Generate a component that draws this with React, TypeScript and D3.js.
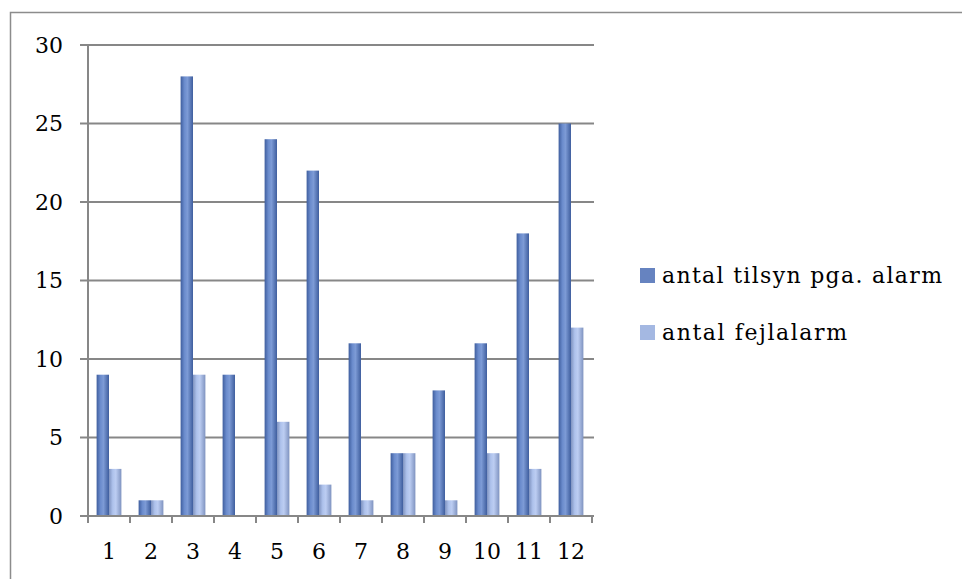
import { useRef, useEffect } from 'react'
import * as d3 from 'd3'

const months = ['1', '2', '3', '4', '5', '6', '7', '8', '9', '10', '11', '12']
const tilsyn = [9, 1, 28, 9, 24, 22, 11, 4, 8, 11, 18, 25]
const fejlalarm = [3, 1, 9, 0, 6, 2, 1, 4, 1, 4, 3, 12]
const seriesNames = ['antal tilsyn pga. alarm', 'antal fejlalarm']
const yTicks = [0, 5, 10, 15, 20, 25, 30]

const colors = [
  { edge: '#3f5e9e', base: '#6a8bcc', light: '#7d9bd6', swatch: '#6683c0' },
  { edge: '#7f93c0', base: '#aec2ec', light: '#bccdf2', swatch: '#a4b8e2' },
]

const font = '"DejaVu Serif", serif'

const App = () => {
  const svgRef = useRef<SVGSVGElement | null>(null)

  useEffect(() => {
    const svg = d3.select(svgRef.current)
    svg.selectAll('*').remove()

    const width = 962
    const height = 579
    const plot = { left: 88, right: 592, top: 45, bottom: 516 }

    svg.attr('width', width).attr('height', height)

    // outer frame
    svg
      .append('rect')
      .attr('x', 10.5)
      .attr('y', 12.5)
      .attr('width', width)
      .attr('height', height)
      .attr('fill', 'white')
      .attr('stroke', '#8c8c8c')
      .attr('stroke-width', 1.5)

    const defs = svg.append('defs')
    colors.forEach((c, i) => {
      const g = defs
        .append('linearGradient')
        .attr('id', `bar-grad-${i}`)
        .attr('x1', '0%')
        .attr('x2', '100%')
        .attr('y1', '0%')
        .attr('y2', '0%')
      g.append('stop').attr('offset', '0%').attr('stop-color', c.edge)
      g.append('stop').attr('offset', '30%').attr('stop-color', c.base)
      g.append('stop').attr('offset', '55%').attr('stop-color', c.light)
      g.append('stop').attr('offset', '100%').attr('stop-color', c.edge)
    })

    const x = d3.scaleBand<string>().domain(months).range([plot.left, plot.right]).paddingInner(0.41).paddingOuter(0.205)
    const inner = d3.scaleBand<number>().domain([0, 1]).range([0, x.bandwidth()])
    const y = d3.scaleLinear().domain([0, 30]).range([plot.bottom, plot.top])

    // gridlines + y ticks
    svg
      .append('g')
      .selectAll('line')
      .data(yTicks)
      .join('line')
      .attr('x1', plot.left - 8)
      .attr('x2', plot.right + 2)
      .attr('y1', (d) => y(d))
      .attr('y2', (d) => y(d))
      .attr('stroke', '#878787')
      .attr('stroke-width', 2)

    svg
      .append('g')
      .selectAll('text')
      .data(yTicks)
      .join('text')
      .attr('x', 63)
      .attr('y', (d) => y(d))
      .attr('dy', '0.35em')
      .attr('text-anchor', 'end')
      .attr('font-family', font)
      .attr('font-size', 22)
      .attr('fill', '#000')
      .text((d) => d)

    // bars
    const series = [tilsyn, fejlalarm]
    series.forEach((vals, si) => {
      svg
        .append('g')
        .selectAll('rect')
        .data(vals)
        .join('rect')
        .attr('x', (_, i) => x(months[i])! + inner(si)!)
        .attr('y', (d) => y(d))
        .attr('width', inner.bandwidth())
        .attr('height', (d) => y(0) - y(d))
        .attr('fill', `url(#bar-grad-${si})`)
    })

    // axes lines
    svg
      .append('line')
      .attr('x1', plot.left)
      .attr('x2', plot.left)
      .attr('y1', plot.top)
      .attr('y2', plot.bottom)
      .attr('stroke', '#878787')
      .attr('stroke-width', 2)

    svg
      .append('line')
      .attr('x1', plot.left)
      .attr('x2', plot.right)
      .attr('y1', plot.bottom)
      .attr('y2', plot.bottom)
      .attr('stroke', '#878787')
      .attr('stroke-width', 2)

    const boundaries = months.map((m) => x(m)! - (x.step() - x.bandwidth()) / 2).concat([plot.right])
    svg
      .append('g')
      .selectAll('line')
      .data(boundaries)
      .join('line')
      .attr('x1', (d) => d)
      .attr('x2', (d) => d)
      .attr('y1', plot.bottom)
      .attr('y2', plot.bottom + 7)
      .attr('stroke', '#878787')
      .attr('stroke-width', 2)

    svg
      .append('g')
      .selectAll('text')
      .data(months)
      .join('text')
      .attr('x', (d) => x(d)! + x.bandwidth() / 2)
      .attr('y', 551)
      .attr('dy', '0.35em')
      .attr('text-anchor', 'middle')
      .attr('font-family', font)
      .attr('font-size', 22)
      .attr('fill', '#000')
      .text((d) => d)

    // legend
    const legendWidths = [280, 185]
    const legend = svg.append('g').attr('transform', 'translate(640,268)')
    seriesNames.forEach((name, i) => {
      legend
        .append('rect')
        .attr('x', 0)
        .attr('y', i * 57)
        .attr('width', 15)
        .attr('height', 15)
        .attr('fill', colors[i].swatch)
      legend
        .append('text')
        .attr('x', 22)
        .attr('y', i * 57 + 7)
        .attr('dy', '0.35em')
        .attr('font-family', font)
        .attr('font-size', 22)
        .attr('fill', '#000')
        .attr('textLength', legendWidths[i])
        .attr('lengthAdjust', 'spacing')
        .text(name)
    })
  }, [])

  return <svg ref={svgRef} style={{ position: 'absolute', left: 0, top: 0, display: 'block' }} />
}

export default App
